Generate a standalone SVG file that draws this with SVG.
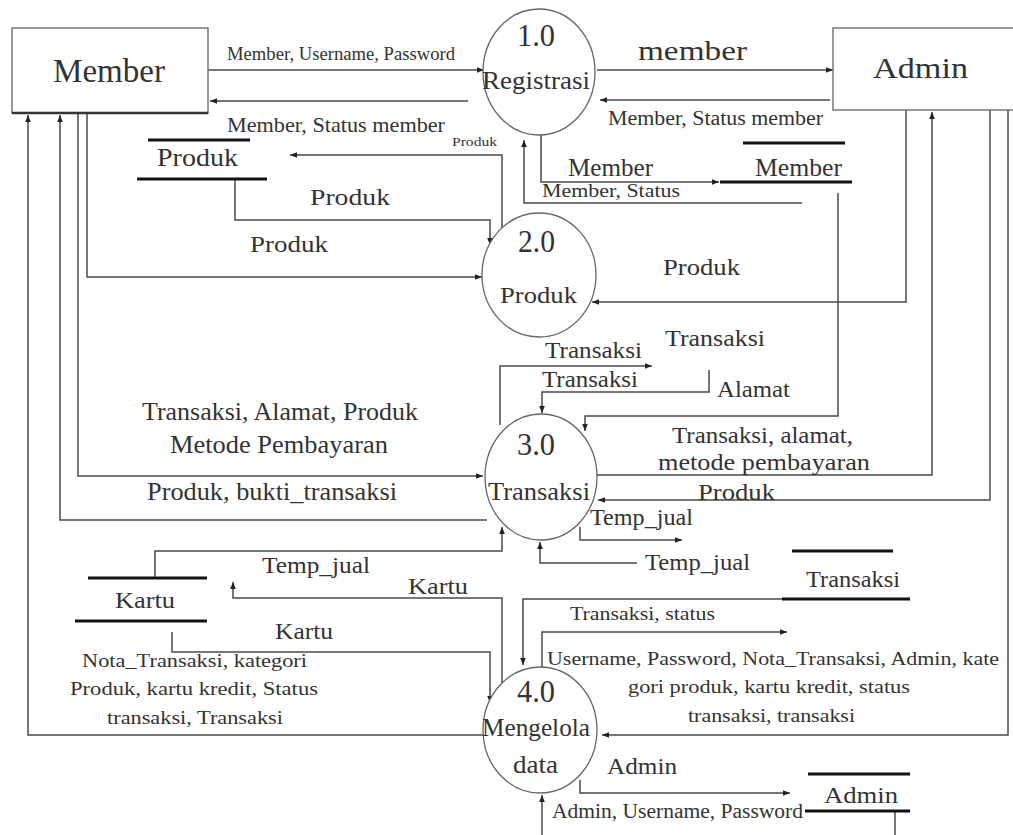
<svg xmlns="http://www.w3.org/2000/svg" width="1013" height="835" viewBox="0 0 1013 835">
<style>
.c path{fill:none;stroke:#4a4a4a;stroke-width:1.5}
.ent{fill:#fff;stroke:#777;stroke-width:1.5}
.proc{fill:#fff;stroke:#666;stroke-width:1.3}
.ds{stroke:#111;stroke-width:3}
text{font-family:'Liberation Serif','Times New Roman',serif;fill:#333}
</style>
<defs>
<marker id="a" viewBox="0 0 10 10" refX="10" refY="5" markerWidth="7" markerHeight="7" orient="auto" markerUnits="userSpaceOnUse"><path d="M0,1 L10,5 L0,9 z" fill="#222"/></marker>
</defs>
<rect width="1013" height="835" fill="#fff"/>

<g class="c">
<path d="M208,70 H484" marker-end="url(#a)"/>
<path d="M468,101 H210" marker-end="url(#a)"/>
<path d="M597,70 H833" marker-end="url(#a)"/>
<path d="M830,100 H600" marker-end="url(#a)"/>
<path d="M502,228 V155 H290" marker-end="url(#a)"/>
<path d="M235,180 V220 H490 V245" marker-end="url(#a)"/>
<path d="M87,113 V277 H482" marker-end="url(#a)"/>
<path d="M541,135 V182 H719" marker-end="url(#a)"/>
<path d="M802,203 H524 V140" marker-end="url(#a)"/>
<path d="M838,193 V416 H585 V431" marker-end="url(#a)"/>
<path d="M906,110 V302 H592" marker-end="url(#a)"/>
<path d="M597,475 H932 V112" marker-end="url(#a)"/>
<path d="M990,110 V500 H598" marker-end="url(#a)"/>
<path d="M1008,110 V735 H602" marker-end="url(#a)"/>
<path d="M500,425 V366 H652" marker-end="url(#a)"/>
<path d="M709,370 V392 H542 V413" marker-end="url(#a)"/>
<path d="M580,527 V540 H682" marker-end="url(#a)"/>
<path d="M637,563 H540 V542" marker-end="url(#a)"/>
<path d="M155,578 V551 H502 V527" marker-end="url(#a)"/>
<path d="M502,683 V598 H233 V582" marker-end="url(#a)"/>
<path d="M172,632 V652 H490 V703" marker-end="url(#a)"/>
<path d="M485,735 H28 V115" marker-end="url(#a)"/>
<path d="M78,113 V476 H483" marker-end="url(#a)"/>
<path d="M487,520 H60 V115" marker-end="url(#a)"/>
<path d="M782,599 H523 V665" marker-end="url(#a)"/>
<path d="M542,667 V632 H787" marker-end="url(#a)"/>
<path d="M580,780 V793 H790" marker-end="url(#a)"/>
<path d="M895,811 V835"/>
<path d="M542,835 V795" marker-end="url(#a)"/>
</g>

<g id="member">
<rect class="ent" x="12" y="28" width="196" height="85"/>
<line x1="12" y1="113" x2="208" y2="113" stroke="#333" stroke-width="2.5"/>
<text x="53" y="82" font-size="34" textLength="112" lengthAdjust="spacingAndGlyphs">Member</text>
</g>
<g id="admin">
<rect class="ent" x="833" y="28" width="190" height="82"/>
<text x="873" y="78" font-size="30" textLength="95" lengthAdjust="spacingAndGlyphs">Admin</text>
</g>

<g id="p1">
<ellipse class="proc" cx="539" cy="72" rx="56" ry="63"/>
<text x="517" y="46" font-size="32" textLength="38" lengthAdjust="spacingAndGlyphs">1.0</text>
<text x="482" y="89" font-size="25" textLength="108" lengthAdjust="spacingAndGlyphs">Registrasi</text>
</g>
<g id="p2">
<ellipse class="proc" cx="539" cy="275" rx="57" ry="62"/>
<text x="518" y="252" font-size="32" textLength="37" lengthAdjust="spacingAndGlyphs">2.0</text>
<text x="500" y="303" font-size="24" textLength="77" lengthAdjust="spacingAndGlyphs">Produk</text>
</g>
<g id="p3">
<ellipse class="proc" cx="541" cy="477" rx="56" ry="63"/>
<text x="517" y="455" font-size="32" textLength="38" lengthAdjust="spacingAndGlyphs">3.0</text>
<text x="488" y="500" font-size="25" textLength="102" lengthAdjust="spacingAndGlyphs">Transaksi</text>
</g>
<g id="p4">
<ellipse class="proc" cx="540" cy="730" rx="57" ry="63"/>
<text x="517" y="702" font-size="32" textLength="38" lengthAdjust="spacingAndGlyphs">4.0</text>
<text x="482" y="736" font-size="25" textLength="108" lengthAdjust="spacingAndGlyphs">Mengelola</text>
<text x="513" y="773" font-size="25" textLength="45" lengthAdjust="spacingAndGlyphs">data</text>
</g>

<g id="ds-produk">
<line class="ds" x1="148" y1="140" x2="250" y2="140"/>
<line class="ds" x1="137" y1="179" x2="267" y2="179"/>
<text x="157" y="166" font-size="25" textLength="81" lengthAdjust="spacingAndGlyphs">Produk</text>
</g>
<g id="ds-member">
<line class="ds" x1="743" y1="143" x2="845" y2="143"/>
<line class="ds" x1="720" y1="182" x2="852" y2="182"/>
<text x="755" y="176" font-size="25" textLength="87" lengthAdjust="spacingAndGlyphs">Member</text>
</g>
<g id="ds-kartu">
<line class="ds" x1="88" y1="578" x2="207" y2="578"/>
<line class="ds" x1="75" y1="621" x2="207" y2="621"/>
<text x="115" y="608" font-size="24" textLength="60" lengthAdjust="spacingAndGlyphs">Kartu</text>
</g>
<g id="ds-transaksi">
<line class="ds" x1="792" y1="551" x2="893" y2="551"/>
<line class="ds" x1="782" y1="599" x2="910" y2="599"/>
<text x="806" y="587" font-size="24" textLength="94" lengthAdjust="spacingAndGlyphs">Transaksi</text>
</g>
<g id="ds-admin">
<line class="ds" x1="808" y1="774" x2="910" y2="774"/>
<line class="ds" x1="805" y1="811" x2="910" y2="811"/>
<text x="824" y="803" font-size="24" textLength="74" lengthAdjust="spacingAndGlyphs">Admin</text>
</g>

<g id="labels">
<text x="227" y="60" font-size="19" textLength="228" lengthAdjust="spacingAndGlyphs">Member, Username, Password</text>
<text x="227" y="132" font-size="21" textLength="218" lengthAdjust="spacingAndGlyphs">Member, Status member</text>
<text x="452" y="146" font-size="12" textLength="45" lengthAdjust="spacingAndGlyphs">Produk</text>
<text x="310" y="205" font-size="24" textLength="80" lengthAdjust="spacingAndGlyphs">Produk</text>
<text x="250" y="252" font-size="24" textLength="78" lengthAdjust="spacingAndGlyphs">Produk</text>
<text x="638" y="60" font-size="28" textLength="109" lengthAdjust="spacingAndGlyphs">member</text>
<text x="608" y="125" font-size="20" textLength="215" lengthAdjust="spacingAndGlyphs">Member, Status member</text>
<text x="568" y="176" font-size="25" textLength="85" lengthAdjust="spacingAndGlyphs">Member</text>
<text x="542" y="197" font-size="18" textLength="138" lengthAdjust="spacingAndGlyphs">Member, Status</text>
<text x="663" y="275" font-size="24" textLength="77" lengthAdjust="spacingAndGlyphs">Produk</text>
<text x="665" y="346" font-size="24" textLength="100" lengthAdjust="spacingAndGlyphs">Transaksi</text>
<text x="545" y="358" font-size="24" textLength="97" lengthAdjust="spacingAndGlyphs">Transaksi</text>
<text x="542" y="387" font-size="24" textLength="96" lengthAdjust="spacingAndGlyphs">Transaksi</text>
<text x="717" y="397" font-size="24" textLength="73" lengthAdjust="spacingAndGlyphs">Alamat</text>
<text x="142" y="420" font-size="25" textLength="276" lengthAdjust="spacingAndGlyphs">Transaksi, Alamat, Produk</text>
<text x="170" y="453" font-size="25" textLength="218" lengthAdjust="spacingAndGlyphs">Metode Pembayaran</text>
<text x="147" y="500" font-size="25" textLength="250" lengthAdjust="spacingAndGlyphs">Produk, bukti_transaksi</text>
<text x="672" y="443" font-size="24" textLength="181" lengthAdjust="spacingAndGlyphs">Transaksi, alamat,</text>
<text x="658" y="470" font-size="24" textLength="212" lengthAdjust="spacingAndGlyphs">metode pembayaran</text>
<text x="698" y="500" font-size="24" textLength="77" lengthAdjust="spacingAndGlyphs">Produk</text>
<text x="590" y="525" font-size="24" textLength="103" lengthAdjust="spacingAndGlyphs">Temp_jual</text>
<text x="645" y="570" font-size="24" textLength="105" lengthAdjust="spacingAndGlyphs">Temp_jual</text>
<text x="262" y="573" font-size="24" textLength="108" lengthAdjust="spacingAndGlyphs">Temp_jual</text>
<text x="408" y="594" font-size="24" textLength="60" lengthAdjust="spacingAndGlyphs">Kartu</text>
<text x="275" y="639" font-size="24" textLength="58" lengthAdjust="spacingAndGlyphs">Kartu</text>
<text x="82" y="667" font-size="19" textLength="225" lengthAdjust="spacingAndGlyphs">Nota_Transaksi, kategori</text>
<text x="70" y="695" font-size="19" textLength="248" lengthAdjust="spacingAndGlyphs">Produk, kartu kredit, Status</text>
<text x="107" y="724" font-size="19" textLength="176" lengthAdjust="spacingAndGlyphs">transaksi, Transaksi</text>
<text x="570" y="620" font-size="19" textLength="145" lengthAdjust="spacingAndGlyphs">Transaksi, status</text>
<text x="547" y="665" font-size="19" textLength="452" lengthAdjust="spacingAndGlyphs">Username, Password, Nota_Transaksi, Admin, kate</text>
<text x="628" y="693" font-size="19" textLength="282" lengthAdjust="spacingAndGlyphs">gori produk, kartu kredit, status</text>
<text x="688" y="722" font-size="19" textLength="167" lengthAdjust="spacingAndGlyphs">transaksi, transaksi</text>
<text x="607" y="774" font-size="24" textLength="70" lengthAdjust="spacingAndGlyphs">Admin</text>
<text x="552" y="818" font-size="20" textLength="251" lengthAdjust="spacingAndGlyphs">Admin, Username, Password</text>
</g>
</svg>
